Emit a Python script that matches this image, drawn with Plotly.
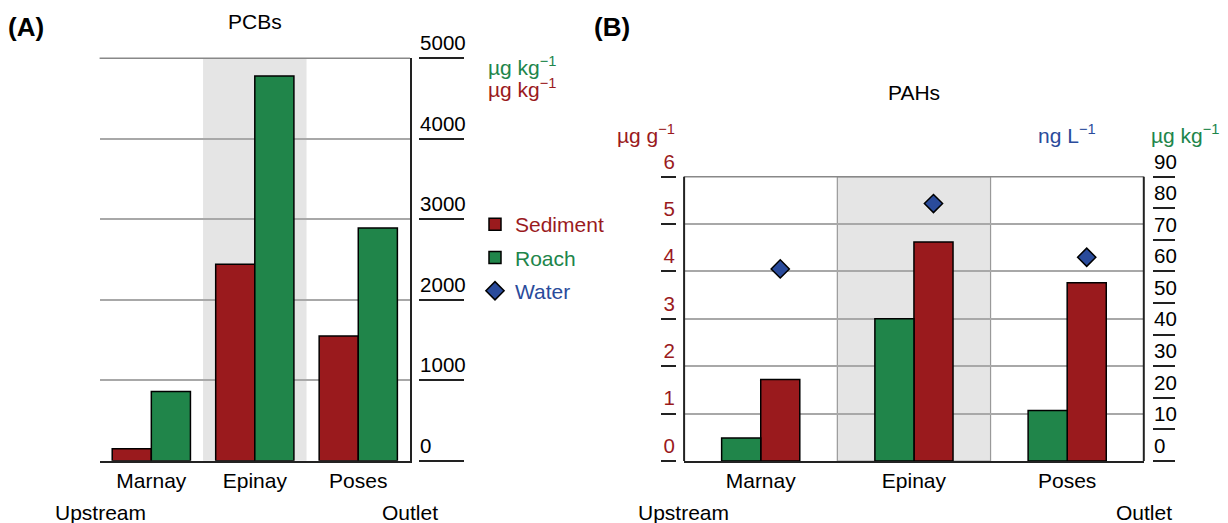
import plotly.graph_objects as go

# ---------------- data ----------------
sites = ["Marnay", "Epinay", "Poses"]
highlight_site = "Epinay"

pcb_sediment = [150, 2440, 1550]      # µg kg-1
pcb_roach = [860, 4780, 2890]         # µg kg-1

pah_sediment = [1.72, 4.62, 3.76]     # µg g-1 (left axis)
pah_roach = [7.3, 45.0, 16.0]         # µg kg-1 (right axis)
pah_water = [60.8, 81.5, 64.5]        # ng L-1

pcb_ticks = [0, 1000, 2000, 3000, 4000, 5000]
pah_left_ticks = [0, 1, 2, 3, 4, 5, 6]
pah_right_ticks = [0, 10, 20, 30, 40, 50, 60, 70, 80, 90]

# ---------------- style ----------------
W, H = 1228, 523
RED = "#9a1a1d"
GREEN = "#20854a"
BLUE = "#2a4b9b"
BAND = "#e5e5e5"
GRID = "#a8a8a8"
TOPLINE = "#888888"
AXC = "#222222"
FONT = "Liberation Sans, Arial, sans-serif"


def X(px):
    return px / W


def Y(py):
    return 1 - py / H


def colored(text, color):
    return "<span style='color:%s'>%s</span>" % (color, text)


wa = 0.378   # bar width panel A (category units)
wb = 0.255   # bar width panel B
hi = sites.index(highlight_site)
xb = list(range(len(sites)))
edge = dict(color="black", width=1.5)

fig = go.Figure()

# Panel A bars
fig.add_trace(go.Bar(x=sites, y=pcb_sediment, name=colored("Sediment", RED), width=wa, offset=-wa,
                     marker=dict(color=RED, line=edge), legendgroup="sed",
                     xaxis="x", yaxis="y"))
fig.add_trace(go.Bar(x=sites, y=pcb_roach, name=colored("Roach", GREEN), width=wa, offset=0,
                     marker=dict(color=GREEN, line=edge), legendgroup="roach",
                     xaxis="x", yaxis="y3"))

# Panel B bars
fig.add_trace(go.Bar(x=xb, y=pah_roach, name="Roach", width=wb, offset=-wb,
                     marker=dict(color=GREEN, line=edge), legendgroup="roach",
                     xaxis="x2", yaxis="y4", showlegend=False))
fig.add_trace(go.Bar(x=xb, y=pah_sediment, name="Sediment", width=wb, offset=0,
                     marker=dict(color=RED, line=edge), legendgroup="sed",
                     xaxis="x2", yaxis="y2", showlegend=False))
fig.add_trace(go.Scatter(x=[i + wb / 2 for i in xb], y=pah_water, name=colored("Water", BLUE),
                         mode="markers", legendgroup="water",
                         marker=dict(symbol="diamond", size=14, color=BLUE,
                                     line=dict(color="black", width=1.5)),
                         xaxis="x2", yaxis="y4"))

tickfont = dict(family=FONT, size=20.5, color="black")
catfont = dict(family=FONT, size=21, color="black")

fig.update_layout(
    width=W, height=H, autosize=False,
    margin=dict(l=0, r=0, t=0, b=0, autoexpand=False),
    paper_bgcolor="white", plot_bgcolor="white",
    font=dict(family=FONT, size=21, color="black"),
    barmode="overlay",
    showlegend=True,
    legend=dict(x=X(475), y=Y(204), xanchor="left", yanchor="top",
                bgcolor="rgba(0,0,0,0)", font=dict(family=FONT, size=21),
                itemclick=False, traceorder="grouped", tracegroupgap=3),
    # ---- panel A ----
    xaxis=dict(domain=[X(99.6), X(410)], anchor="y", range=[-0.5, 2.5], automargin=False,
               showline=True, linecolor=AXC, linewidth=2, ticks="",
               showgrid=False, tickfont=catfont),
    yaxis=dict(domain=[Y(460.7), Y(58.3)], anchor="x", side="right", range=[0, 5000],
               automargin=False,
               tickvals=pcb_ticks, showticklabels=False, ticks="",
               showgrid=True, gridcolor=GRID, gridwidth=1.5, zeroline=False,
               showline=True, linecolor=AXC, linewidth=2),
    yaxis3=dict(overlaying="y", anchor="free", position=X(418), side="right",
                range=[0, 5000], tickvals=pcb_ticks, ticks="outside", ticklen=45,
                automargin=False,
                tickwidth=2, tickcolor=AXC, showgrid=False, zeroline=False, showline=False,
                ticklabelposition="outside top", ticklabelstandoff=-3, tickfont=tickfont),
    # ---- panel B ----
    xaxis2=dict(domain=[X(684.1), X(1143.8)], anchor="y2", range=[-0.5, 2.5],
                automargin=False,
                tickvals=xb, ticktext=sites, showline=True, linecolor=AXC, linewidth=2,
                ticks="", showgrid=False, zeroline=False, tickfont=catfont),
    yaxis2=dict(domain=[Y(461), Y(176.7)], anchor="free", position=X(676), side="left",
                range=[0, 6], automargin=False,
                tickvals=pah_left_ticks, ticks="outside", ticklen=15,
                tickwidth=2, tickcolor=AXC,
                ticklabelposition="outside top", ticklabelstandoff=-3,
                tickfont=dict(family=FONT, size=20.5, color=RED),
                showgrid=True, gridcolor=GRID, gridwidth=1.5, zeroline=False,
                showline=False),
    yaxis4=dict(overlaying="y2", anchor="free", position=X(1152), side="right",
                range=[0, 90], tickvals=pah_right_ticks, ticks="outside", ticklen=22,
                automargin=False,
                tickwidth=2, tickcolor=AXC, showgrid=False, zeroline=False, showline=False,
                ticklabelposition="outside top", ticklabelstandoff=-3, tickfont=tickfont),
)

# highlighted site bands
fig.add_shape(type="rect", xref="x", yref="y domain", x0=hi - 0.5, x1=hi + 0.5, y0=0, y1=1,
              fillcolor=BAND, line=dict(width=0), layer="below")
fig.add_shape(type="rect", xref="x2", yref="y2 domain", x0=hi - 0.5, x1=hi + 0.5, y0=0, y1=1,
              fillcolor=BAND, line=dict(width=1.2, color="#999999"), layer="below")
# top edges of both panels
fig.add_shape(type="line", xref="x domain", yref="y domain", x0=0, x1=1, y0=1, y1=1,
              line=dict(color=TOPLINE, width=1.5), layer="above")
fig.add_shape(type="line", xref="x2 domain", yref="y2 domain", x0=0, x1=1, y0=1, y1=1,
              line=dict(color=TOPLINE, width=1.5), layer="above")
# panel B frame (left and right sides)
for side in (0, 1):
    fig.add_shape(type="line", xref="x2 domain", yref="y2 domain", x0=side, x1=side,
                  y0=0, y1=1, line=dict(color=AXC, width=2), layer="above")


def ann(text, x, y, xanchor="left", size=21, color="black", bold=False):
    fig.add_annotation(text=("<b>%s</b>" % text) if bold else text, x=x, y=y,
                       xref="paper", yref="paper", xanchor=xanchor, yanchor="middle",
                       showarrow=False, font=dict(family=FONT, size=size, color=color))


sup = "<sup>\u22121</sup>"
ann("(A)", X(6), Y(27), size=26, bold=True)
ann("PCBs", X(255), Y(22), xanchor="center")
ann("\u00b5g kg" + sup, X(486), Y(66), color=GREEN)
ann("\u00b5g kg" + sup, X(486), Y(88), color=RED)
ann("Upstream", X(53), Y(512))
ann("Outlet", X(440), Y(512), xanchor="right")

ann("(B)", X(592), Y(27), size=26, bold=True)
ann("PAHs", X(914), Y(93), xanchor="center")
ann("\u00b5g g" + sup, X(677), Y(134), xanchor="right", color=RED)
ann("ng L" + sup, X(1036), Y(134), color=BLUE)
ann("\u00b5g kg" + sup, X(1149), Y(134), color=GREEN)
ann("Upstream", X(636), Y(512))
ann("Outlet", X(1174), Y(512), xanchor="right")

fig.write_html("out.html", config={"displayModeBar": False},
               post_script="document.body.style.margin='0';")
